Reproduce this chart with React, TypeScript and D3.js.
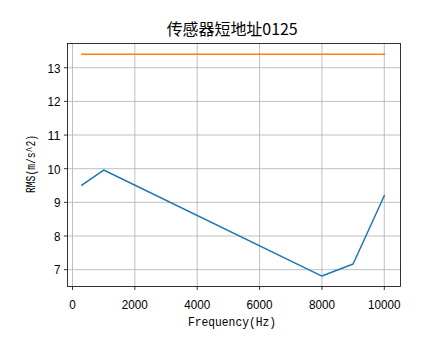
import React from "react";
import * as d3 from "d3";

const freqs = [300, 1000, 8000, 9000, 10000];
const rmsValues = [9.51, 9.96, 6.81, 7.17, 9.2];
const limitFreqs = [300, 10000];
const limitValues = [13.4, 13.4];
const xTicks = [0, 2000, 4000, 6000, 8000, 10000];
const yTicks = [7, 8, 9, 10, 11, 12, 13];
const title = "传感器短地址0125";
const xLabel = "Frequency(Hz)";
const yLabel = "RMS(m/s^2)";

const W = 444;
const H = 359;
const L = 67.5, R = 400.5, T = 43.5, B = 286.5;
const LABEL_FONT = "SimHei, 'Liberation Mono', 'Noto Sans CJK SC', sans-serif";
const TICK_FONT = "SimHei, 'Liberation Sans', 'Noto Sans CJK SC', sans-serif";

export default function App() {
  const x = d3.scaleLinear().domain([-160, 10520]).range([L, R]);
  const y = d3.scaleLinear().domain([6.5, 13.72]).range([B, T]);
  const line = d3
    .line<[number, number]>()
    .x((d) => x(d[0]))
    .y((d) => y(d[1]));
  const blue = freqs.map((f, i) => [f, rmsValues[i]] as [number, number]);
  const orange = limitFreqs.map((f, i) => [f, limitValues[i]] as [number, number]);
  const fs = 13.5;
  return (
    <svg
      width={W}
      height={H}
      style={{ position: "absolute", left: 0, top: 0, background: "#fff" }}
      fontFamily={LABEL_FONT}
    >
      <rect x={0} y={0} width={W} height={H} fill="#fff" />
      <defs>
        <clipPath id="clip">
          <rect x={L} y={T} width={R - L} height={B - T} />
        </clipPath>
      </defs>
      {xTicks.map((t) => (
        <line key={"gx" + t} x1={x(t)} x2={x(t)} y1={T} y2={B} stroke="#b0b0b0" strokeWidth={0.8} />
      ))}
      {yTicks.map((t) => (
        <line key={"gy" + t} x1={L} x2={R} y1={y(t)} y2={y(t)} stroke="#b0b0b0" strokeWidth={0.8} />
      ))}
      <g clipPath="url(#clip)">
        <path d={line(blue) || ""} fill="none" stroke="#1f77b4" strokeWidth={1.5} strokeLinecap="square" strokeLinejoin="round" />
        <path d={line(orange) || ""} fill="none" stroke="#ff7f0e" strokeWidth={1.5} strokeLinecap="square" />
      </g>
      <rect x={L} y={T} width={R - L} height={B - T} fill="none" stroke="#000" strokeWidth={0.8} />
      {xTicks.map((t) => {
        const s = String(t);
        return (
          <g key={"tx" + t}>
            <line x1={x(t)} x2={x(t)} y1={B} y2={B + 3.5} stroke="#000" strokeWidth={0.8} />
            <text x={x(t)} y={308.5} fontSize={fs} fontFamily={TICK_FONT} textAnchor="middle" textLength={s.length * 6.5} lengthAdjust="spacingAndGlyphs">
              {s}
            </text>
          </g>
        );
      })}
      {yTicks.map((t) => {
        const s = String(t);
        return (
          <g key={"ty" + t}>
            <line x1={L - 3.5} x2={L} y1={y(t)} y2={y(t)} stroke="#000" strokeWidth={0.8} />
            <text x={60.5} y={y(t) + 4.8} fontSize={fs} fontFamily={TICK_FONT} textAnchor="end" textLength={s.length * 6.5} lengthAdjust="spacingAndGlyphs">
              {s}
            </text>
          </g>
        );
      })}
      <text x={232} y={326} fontSize={fs} textAnchor="middle" textLength={88} lengthAdjust="spacingAndGlyphs">
        {xLabel}
      </text>
      <text
        transform={`translate(35, 164) rotate(-90)`}
        fontSize={fs}
        textAnchor="middle"
        textLength={58}
        lengthAdjust="spacingAndGlyphs"
      >
        {yLabel}
      </text>
      <text
        x={232.2}
        y={34.7}
        fontSize={16}
        textAnchor="middle"
        textLength={131}
        lengthAdjust="spacingAndGlyphs"
        fontFamily="SimHei, 'Noto Sans CJK SC', sans-serif"
      >
        {title}
      </text>
    </svg>
  );
}
